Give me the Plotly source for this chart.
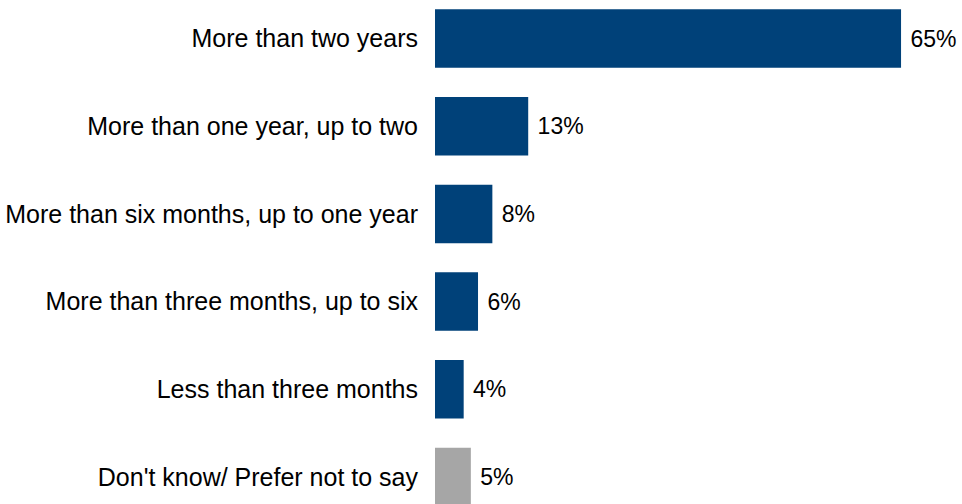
import plotly.graph_objects as go

# Survey responses: how long respondents have been in the situation
categories = [
    "More than two years",
    "More than one year, up to two",
    "More than six months, up to one year",
    "More than three months, up to six",
    "Less than three months",
    "Don't know/ Prefer not to say",
]
shares = [65, 13, 8, 6, 4, 5]
bar_colors = ["#004179", "#004179", "#004179", "#004179", "#004179", "#A6A6A6"]

FONT = "Liberation Sans, Arial, sans-serif"

fig = go.Figure(
    go.Bar(
        x=shares,
        y=categories,
        orientation="h",
        marker=dict(color=bar_colors, line=dict(width=0)),
        width=0.667,
        text=[f" {v}%" for v in shares],
        textposition="outside",
        cliponaxis=False,
        textfont=dict(family=FONT, size=23, color="#000000"),
        hoverinfo="skip",
    )
)

fig.update_layout(
    width=962,
    height=504,
    margin=dict(l=435, r=0, t=0, b=0),
    paper_bgcolor="white",
    plot_bgcolor="white",
    showlegend=False,
    font=dict(family=FONT, size=23, color="#000000"),
)
fig.update_xaxes(visible=False, range=[0, 73.5], fixedrange=True)
fig.update_yaxes(
    type="category",
    categoryorder="array",
    categoryarray=categories,
    range=[5.308, -0.439],
    showgrid=False,
    zeroline=False,
    showline=False,
    ticks="",
    ticklabelstandoff=16,
    tickfont=dict(family=FONT, size=25, color="#000000"),
    fixedrange=True,
)

fig.write_html("out.html")
